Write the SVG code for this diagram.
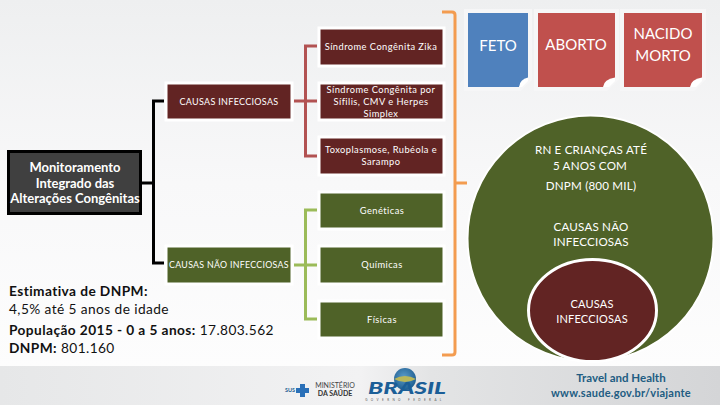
<svg xmlns="http://www.w3.org/2000/svg" width="720" height="405" viewBox="0 0 720 405">
<defs>
<linearGradient id="bg" x1="0" y1="0" x2="0" y2="1"><stop offset="0" stop-color="#eeeff0"/><stop offset="0.45" stop-color="#f8f8f9"/><stop offset="1" stop-color="#fefefe"/></linearGradient>
<linearGradient id="foot" x1="0" y1="0" x2="1" y2="0"><stop offset="0" stop-color="#e6e7e8"/><stop offset="0.5" stop-color="#f2f2f3"/><stop offset="0.6" stop-color="#e3e4e5"/><stop offset="1" stop-color="#d4d5d7"/></linearGradient>
<radialGradient id="globe" cx="0.45" cy="0.4" r="0.6"><stop offset="0" stop-color="#5a9ac8"/><stop offset="1" stop-color="#1f5f92"/></radialGradient>
</defs>
<style>
text{font-family:"Lato","Carlito","Open Sans",sans-serif;text-anchor:middle}
.s{font-size:9.300px;fill:#fff;letter-spacing:.45px}
.m{font-size:13px;fill:#fff;font-weight:700}
.c{font-size:9px;fill:#fff;letter-spacing:.3px}
.w{font-size:11.600px;fill:#fff;letter-spacing:.2px}
.big{font-size:15px;fill:#fff}
.e{font-size:13.700px;fill:#111;text-anchor:start;letter-spacing:.42px}
.b{font-weight:700}
.red{fill:#622423;stroke:#fff;stroke-width:3}
.grn{fill:#4f6228;stroke:#fff;stroke-width:3}
.note{stroke:#f6f6f7;stroke-width:8;paint-order:stroke}
.k{fill:none;stroke:#000;stroke-width:3}
.r{fill:none;stroke:#b25252;stroke-width:3}
.g{fill:none;stroke:#9bbb59;stroke-width:3}
.o{fill:none;stroke:#f39c50;stroke-width:3}
.fold{fill:#fff}
</style>
<rect width="720" height="405" fill="url(#bg)"/>
<rect x="0" y="366" width="720" height="39" fill="url(#foot)"/>
<g id="connectors">
<path class="k" d="M142 183H153.500M164 101H153.500V263H164"/>
<path class="r" d="M294 101H317M317 46H305.500V156H317"/>
<path class="g" d="M294 265H317M317 210H305.500V319H317"/>
<path class="o" d="M442 12H452Q455 12 455 15V352Q455 355 452 355H442M455 183H467"/>
</g>
<g id="monitoramento"><rect x="8.500" y="151.500" width="132" height="62" fill="#404040" stroke="#000" stroke-width="3"/>
<text class="m" x="75" y="172">Monitoramento</text><text class="m" x="75" y="188">Integrado das</text><text class="m" x="75" y="203">Alterações Congênitas</text></g>
<g id="causas-infecciosas"><rect class="red" x="166" y="83" width="126" height="37"/><text class="c" x="229" y="105">CAUSAS INFECCIOSAS</text></g>
<g id="causas-nao-infecciosas"><rect class="grn" x="166" y="246" width="126" height="38"/><text class="c" x="229" y="268" style="font-size:8.800px">CAUSAS NÃO INFECCIOSAS</text></g>
<g id="sindrome-zika"><rect class="red" x="319" y="28" width="125" height="38"/><text class="s" x="381" y="50">Síndrome Congênita Zika</text></g>
<g id="sindrome-sifilis"><rect class="red" x="319" y="83" width="125" height="37"/><text class="s" x="381" y="93">Síndrome Congênita por</text><text class="s" x="381" y="105">Sífilis, CMV e Herpes</text><text class="s" x="381" y="117">Simplex</text></g>
<g id="toxoplasmose"><rect class="red" x="319" y="137" width="125" height="38"/><text class="s" x="381" y="153">Toxoplasmose, Rubéola e</text><text class="s" x="381" y="165">Sarampo</text></g>
<g id="geneticas"><rect class="grn" x="319" y="192" width="125" height="37"/><text class="s" x="382" y="214">Genéticas</text></g>
<g id="quimicas"><rect class="grn" x="319" y="246" width="125" height="38"/><text class="s" x="382" y="268">Químicas</text></g>
<g id="fisicas"><rect class="grn" x="319" y="301" width="125" height="37"/><text class="s" x="382" y="323">Físicas</text></g>
<g id="feto"><path class="note" d="M468 13H528V78L519 87H468Z" fill="#4f81bd"/><path class="fold" d="M519 87Q520 79 528 77.500V81L522 87Z"/><text class="big" x="498" y="51">FETO</text></g>
<g id="aborto"><path class="note" d="M538 13H615V78L606 87H538Z" fill="#c0504d"/><path class="fold" d="M603 87Q604 79 615 77.500V81L609 87Z"/><text class="big" x="576" y="50">ABORTO</text></g>
<g id="nacido-morto"><path class="note" d="M624 13H702V78L693 87H624Z" fill="#c0504d"/><path class="fold" d="M690 87Q691 79 702 77.500V81L696 87Z"/><text class="big" x="663" y="39">NACIDO</text><text class="big" x="663" y="61">MORTO</text></g>
<g id="circulo-dnpm"><circle cx="590.500" cy="238.500" r="123" fill="#4f6228" stroke="#fff" stroke-width="2"/>
<text class="w" x="591" y="154">RN E CRIANÇAS ATÉ</text><text class="w" x="590" y="170">5 ANOS COM</text><text class="w" x="591" y="190">DNPM (800 MIL)</text>
<text class="w" x="591" y="231">CAUSAS NÃO</text><text class="w" x="591" y="246">INFECCIOSAS</text></g>
<g id="circulo-infecciosas"><ellipse cx="592.500" cy="310.500" rx="64" ry="51" fill="#622423" stroke="#fff" stroke-width="3"/><text class="w" x="592" y="308" style="font-size:11px">CAUSAS</text><text class="w" x="592" y="323" style="font-size:11px">INFECCIOSAS</text></g>
<g id="estimativa"><text class="e" x="9" y="296"><tspan class="b">Estimativa de DNPM:</tspan></text><text class="e" x="9" y="314">4,5% até 5 anos de idade</text><text class="e" x="9" y="335"><tspan class="b">População 2015 - 0 a 5 anos:</tspan> 17.803.562</text><text class="e" x="9" y="353"><tspan class="b">DNPM:</tspan> 801.160</text></g>
<g id="rodape">
<rect x="296" y="388" width="13" height="5" fill="#2a70b8"/><rect x="300" y="384" width="5" height="13" fill="#2a70b8"/>
<text x="290" y="392" style="font-size:5.500px;fill:#1f5f92;font-weight:700">SUS</text>
<text x="335" y="388" style="font-size:7px;fill:#444">MINISTÉRIO</text><text x="335" y="396" style="font-size:7px;fill:#333;font-weight:700">DA SAÚDE</text>
<circle cx="405" cy="379" r="11" fill="url(#globe)"/><path d="M394 379Q405 373 416 379Q405 385 394 379Z" fill="#b9b75a"/>
<text x="368" y="394" textLength="78" lengthAdjust="spacingAndGlyphs" style="font-size:17px;font-weight:900;font-style:italic;fill:#1b5e97;text-anchor:start">BRASIL</text>
<text x="405" y="401" style="font-size:3px;fill:#555;letter-spacing:3.400px">GOVERNO FEDERAL</text>
<text x="621" y="382" style="font-size:11.500px;font-weight:700;fill:#215c82">Travel and Health</text>
<text x="621" y="397" style="font-size:11px;font-weight:700;fill:#215c82;letter-spacing:.25px">www.saude.gov.br/viajante</text>
</g>
</svg>
